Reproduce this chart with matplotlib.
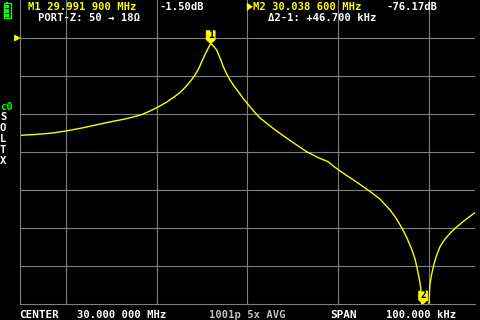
import matplotlib
matplotlib.use('Agg')
import matplotlib.pyplot as plt
from matplotlib.patches import Rectangle, Polygon
import numpy as np

W, H = 480, 320

# ---- data ----
start_mhz = 29.95
stop_mhz = 30.05
grid_freq_mhz = [29.96, 29.98, 30.00, 30.02, 30.04]
grid_db = [0, -10, -20, -30, -40, -50, -60]
ylim_db = (-70, 10)

# trace: offset from start frequency (kHz) and S21 (dB)
freq_offset_khz = [0.00, 3.30, 6.59, 10.11, 13.63, 17.14, 20.22, 23.08, 25.27, 26.81,
                   28.57, 30.33, 32.09, 33.85, 35.16, 36.48, 37.58, 38.46, 39.34, 40.00,
                   40.66, 41.32, 41.90, 42.42, 43.23, 43.96, 44.68, 45.38, 46.15, 47.03,
                   47.98, 49.23, 50.55, 51.43, 52.75, 55.60, 59.34, 63.01, 65.49, 67.69,
                   69.01, 70.33, 73.63, 76.48, 79.12, 81.32, 82.64, 83.96, 85.05, 86.15,
                   86.81, 87.36, 87.80, 88.07, 88.24, 88.60, 89.78, 89.93, 90.07, 90.44,
                   90.88, 91.43, 92.31, 93.41, 94.51, 95.82, 97.36, 98.68, 100.00]
trace_db = [-25.61, -25.39, -25.08, -24.47, -23.68, -22.76, -21.97, -21.32, -20.66, -20.13,
            -19.21, -18.16, -16.97, -15.53, -14.34, -12.76, -11.18, -9.74, -7.89, -6.05,
            -4.34, -2.76, -1.50, -1.97, -3.16, -5.26, -7.55, -9.34, -11.05, -12.63,
            -14.13, -16.18, -18.08, -19.34, -21.05, -23.76, -26.97, -29.92, -31.45, -32.55,
            -33.82, -35.00, -37.63, -40.00, -42.37, -45.26, -47.37, -50.08, -52.63, -55.79,
            -58.16, -61.05, -63.68, -65.79, -68.95, -76.17, -71.58, -68.95, -65.00, -62.37,
            -60.00, -57.63, -54.92, -52.89, -51.39, -49.87, -48.34, -47.11, -45.97]

marker_freq = [29.9919, 30.0386]
marker_db = [-1.50, -76.17]
marker_labels = ['1', '2']

header_texts = ["M1 29.991 900 MHz", "-1.50dB", "PORT-Z: 50 \u2192 18\u03a9",
                "M2 30.038 600 MHz", "-76.17dB", "\u03942-1: +46.700 kHz"]
footer_texts = ["CENTER", "30.000 000 MHz", "1001p 5x AVG", "SPAN", "100.000 kHz"]
cal_texts = ["S", "O", "L", "T", "X"]

YEL = '#ffff00'
GRN = '#00ff00'
GRID = '#808080'
FAM = ['DejaVu Sans Mono', 'DejaVu Sans']

freq_mhz = start_mhz + np.array(freq_offset_khz) / 1000.0

fig = plt.figure(figsize=(W / 100, H / 100), dpi=100, facecolor='black')
ax = fig.add_axes([20 / W, 16 / H, 455 / W, 304 / H], facecolor='black')
ax.set_xlim(start_mhz, stop_mhz)
ax.set_ylim(*ylim_db)
ax.set_xticks(grid_freq_mhz)
ax.set_yticks(grid_db)
ax.grid(True, color=GRID, lw=0.8)
ax.tick_params(length=0, labelbottom=False, labelleft=False)
for s in ['top', 'right']:
    ax.spines[s].set_visible(False)
for s in ['left', 'bottom']:
    ax.spines[s].set_color(GRID)
    ax.spines[s].set_linewidth(0.8)

ax.plot(freq_mhz, trace_db, color=YEL, lw=1.0, solid_joinstyle='round')


def T(x, y, s, color='white', size=7.6, **kw):
    fig.text(x / W, 1 - y / H, s, color=color, fontsize=size, family=FAM,
             fontweight='bold', va='baseline', ha='left', **kw)


# markers (box with number, pointing at the trace point, clipped to screen)
fig.canvas.draw()
for f, d, lab in zip(marker_freq, marker_db, marker_labels):
    dd = max(d, ylim_db[0])
    cx, cy = ax.transData.transform((f, dd))
    pts = [(cx - 4.5, cy + 13), (cx + 4.5, cy + 13), (cx + 4.5, cy + 4),
           (cx, cy), (cx - 4.5, cy + 4)]
    fig.patches.append(Polygon(pts, closed=True, transform=None, facecolor=YEL,
                               edgecolor=YEL, lw=0.5, figure=fig))
    fig.text(cx / W, (cy + 8.5) / H, lab, color='black', fontsize=7, family=FAM,
             fontweight='bold', ha='center', va='center')

# header
T(28, 10.5, header_texts[0], YEL)
T(159.5, 10.5, header_texts[1])
T(38, 21, header_texts[2])
fig.patches.append(Polygon([(247, H - 3), (247, H - 10.5), (252.5, H - 6.75)], closed=True,
                           transform=None, facecolor=YEL, edgecolor=YEL, lw=0.3, figure=fig))
T(253, 10.5, header_texts[3], YEL)
T(386.5, 10.5, header_texts[4])
T(268, 21, header_texts[5])

# footer
T(19, 318, footer_texts[0], size=7.9)
T(77, 318, footer_texts[1], size=7.6)
T(209, 318, footer_texts[2], color='#c0c0c0', size=7.6)
T(330, 318, footer_texts[3], size=7.9)
T(386, 318, footer_texts[4], size=7.6)

# calibration status
T(0, 110, "c0", GRN, size=7.6)
for i, s in enumerate(cal_texts):
    T(0, 120 + 11 * i, s, size=7.6)

# reference level indicator
_, ry = ax.transData.transform((start_mhz, 0))
fig.patches.append(Polygon([(14.5, ry + 3), (14.5, ry - 3), (20, ry)], closed=True,
                           transform=None, facecolor=YEL, edgecolor=YEL, lw=0.5, figure=fig))

# battery icon
fig.patches.append(Rectangle((5.5, H - 3), 2.5, 1.5, transform=None, facecolor=GRN,
                             edgecolor='none', figure=fig))
fig.patches.append(Rectangle((3.5, H - 18), 7, 15, transform=None, facecolor='none',
                             edgecolor=GRN, lw=1.0, figure=fig))
for i in range(3):
    fig.patches.append(Rectangle((5, H - 17 + 4.5 * i), 4, 3.3, transform=None,
                                 facecolor=GRN, edgecolor='none', figure=fig))

fig.savefig('out.png', dpi=100, facecolor='black')
